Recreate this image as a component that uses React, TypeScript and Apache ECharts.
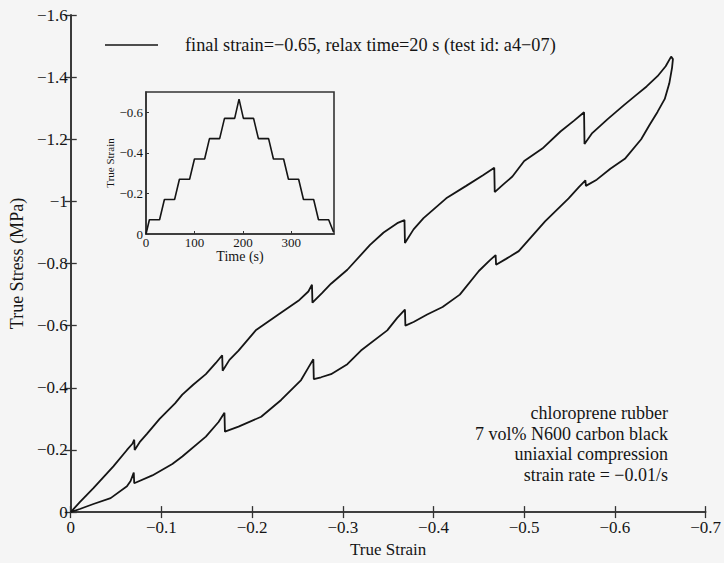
import React, { useEffect, useRef } from "react";
import * as echarts from "echarts";

// Main loop: loading path (strain, stress)
const loadStrain = [0, -0.01, -0.025, -0.047, -0.062, -0.068, -0.07, -0.0705, -0.076, -0.084, -0.098, -0.115, -0.123, -0.135, -0.149, -0.16, -0.167, -0.1675, -0.175, -0.185, -0.204, -0.229, -0.251, -0.262, -0.266, -0.2665, -0.277, -0.287, -0.305, -0.33, -0.345, -0.36, -0.368, -0.3685, -0.378, -0.389, -0.414, -0.436, -0.455, -0.467, -0.4675, -0.477, -0.487, -0.5, -0.52, -0.54, -0.555, -0.566, -0.5665, -0.575, -0.592, -0.61, -0.622, -0.635, -0.647, -0.656, -0.662];
const loadStress = [0, -0.032, -0.077, -0.147, -0.2, -0.22, -0.233, -0.2, -0.225, -0.252, -0.3, -0.35, -0.378, -0.41, -0.444, -0.48, -0.505, -0.455, -0.49, -0.52, -0.585, -0.636, -0.68, -0.71, -0.732, -0.674, -0.705, -0.735, -0.78, -0.86, -0.9, -0.93, -0.94, -0.866, -0.91, -0.946, -1.01, -1.05, -1.085, -1.108, -1.03, -1.055, -1.08, -1.13, -1.17, -1.225, -1.26, -1.287, -1.185, -1.22, -1.265, -1.31, -1.339, -1.37, -1.403, -1.435, -1.466];
// Unloading path
const unloadStrain = [-0.664, -0.663, -0.66, -0.655, -0.647, -0.638, -0.629, -0.611, -0.595, -0.58, -0.568, -0.5675, -0.56, -0.549, -0.523, -0.494, -0.48, -0.469, -0.4685, -0.462, -0.45, -0.429, -0.41, -0.393, -0.378, -0.369, -0.3685, -0.36, -0.349, -0.32, -0.305, -0.287, -0.276, -0.268, -0.2675, -0.262, -0.254, -0.232, -0.21, -0.185, -0.17, -0.1695, -0.163, -0.149, -0.123, -0.112, -0.09, -0.07, -0.0695, -0.066, -0.062, -0.044, -0.025, -0.01, 0];
const unloadStress = [-1.458, -1.43, -1.38, -1.33, -1.288, -1.245, -1.2, -1.137, -1.105, -1.07, -1.05, -1.068, -1.045, -1.01, -0.936, -0.84, -0.815, -0.796, -0.827, -0.81, -0.776, -0.7, -0.66, -0.636, -0.612, -0.6, -0.652, -0.625, -0.585, -0.52, -0.476, -0.444, -0.434, -0.428, -0.492, -0.465, -0.425, -0.361, -0.307, -0.275, -0.259, -0.32, -0.29, -0.243, -0.179, -0.155, -0.118, -0.093, -0.127, -0.1, -0.083, -0.045, -0.026, -0.01, 0];

// Inset: strain history
const insetTime = [0, 7, 28, 38, 59, 69, 90, 100, 121, 131, 152, 162, 183, 192, 201, 222, 232, 253, 263, 284, 294, 315, 325, 346, 356, 377, 387];
const insetStrain = [0, -0.07, -0.07, -0.17, -0.17, -0.27, -0.27, -0.37, -0.37, -0.47, -0.47, -0.57, -0.57, -0.665, -0.57, -0.57, -0.47, -0.47, -0.37, -0.37, -0.27, -0.27, -0.17, -0.17, -0.07, -0.07, -0.01];
const insetStrainTicks = [0, -0.2, -0.4, -0.6];

const legendName = "final strain=\u22120.65, relax time=20 s (test id: a4\u221207)";
const noteLines = ["chloroprene rubber", "7 vol% N600 carbon black", "uniaxial compression", "strain rate = \u22120.01/s"];

const FONT = "Liberation Serif";
const INK = "#151515";

const fmt = (v: number) => {
  const r = Math.round(v * 1000) / 1000;
  if (r === 0) return "0";
  return String(r).replace("-", "\u2212");
};

export default function App() {
  const ref = useRef<HTMLDivElement>(null);
  useEffect(() => {
    if (!ref.current) return;
    const chart = echarts.init(ref.current, undefined, { renderer: "svg" });
    const loop: number[][] = [];
    loadStrain.forEach((x, i) => loop.push([x, loadStress[i]]));
    unloadStrain.forEach((x, i) => loop.push([x, unloadStress[i]]));
    const hist: number[][] = insetTime.map((t, i) => [t, insetStrain[i]]);

    const tickInside = { show: true, inside: true, length: 6, lineStyle: { color: "#333", width: 1.3 } };
    const axLine = { show: true, lineStyle: { color: "#333", width: 1.6 } };

    chart.setOption({
      animation: false,
      backgroundColor: "#f5f5f5",
      textStyle: { fontFamily: FONT },
      grid: [
        { left: 70, top: 15, width: 642, height: 501, show: false },
        { left: 146, top: 92, width: 188, height: 142, show: true, backgroundColor: "#f5f5f5", borderColor: "#333", borderWidth: 1.6 },
      ],
      legend: {
        show: true,
        left: 100,
        top: 31,
        itemWidth: 53,
        itemHeight: 18,
        data: [{ name: legendName, icon: "path://M0,8 L53,8 L53,9.6 L0,9.6 Z" }],
        textStyle: { fontFamily: FONT, fontSize: 18.3, color: INK, padding: [0, 0, 0, 22] },
      },
      xAxis: [
        {
          type: "value", gridIndex: 0, min: -0.7, max: 0, interval: 0.1, inverse: true,
          name: "True Strain", nameLocation: "middle", nameGap: 24,
          nameTextStyle: { fontFamily: FONT, fontSize: 17, color: INK },
          axisLine: axLine, axisTick: tickInside, splitLine: { show: false },
          axisLabel: { formatter: fmt, fontFamily: FONT, fontSize: 17, color: INK, margin: 7 },
        },
        {
          type: "value", gridIndex: 0, position: "top", min: -0.7, max: 0, interval: 0.1, inverse: true,
          axisLine: axLine, axisTick: tickInside, splitLine: { show: false }, axisLabel: { show: false },
        },
        {
          type: "value", gridIndex: 1, min: 0, max: 388, interval: 100,
          name: "Time (s)", nameLocation: "middle", nameGap: 11,
          nameTextStyle: { fontFamily: FONT, fontSize: 14, color: INK },
          axisLine: axLine, axisTick: { show: true, inside: true, length: 3, lineStyle: { color: "#333" } },
          splitLine: { show: false },
          axisLabel: { formatter: fmt, fontFamily: FONT, fontSize: 13, color: INK, margin: 2, showMaxLabel: false },
        },
      ],
      yAxis: [
        {
          type: "value", gridIndex: 0, min: -1.6, max: 0, interval: 0.2, inverse: true,
          name: "True Stress (MPa)", nameLocation: "middle", nameGap: 37,
          nameTextStyle: { fontFamily: FONT, fontSize: 18, color: INK },
          axisLine: axLine, axisTick: tickInside, splitLine: { show: false },
          axisLabel: { formatter: fmt, fontFamily: FONT, fontSize: 17, color: INK, margin: 3 },
        },
        {
          type: "value", gridIndex: 0, position: "right", min: -1.6, max: 0, interval: 0.2, inverse: true,
          axisLine: axLine, axisTick: tickInside, splitLine: { show: false }, axisLabel: { show: false },
        },
        {
          type: "value", gridIndex: 1, min: -0.7, max: 0, inverse: true,
          name: "True Strain", nameLocation: "middle", nameGap: 27,
          nameTextStyle: { fontFamily: FONT, fontSize: 11, color: INK },
          axisLine: axLine,
          axisTick: { show: true, inside: true, length: 3, lineStyle: { color: "#333" }, customValues: insetStrainTicks },
          splitLine: { show: false },
          axisLabel: { formatter: fmt, fontFamily: FONT, fontSize: 13, color: INK, margin: 3, customValues: insetStrainTicks },
        },
      ],
      series: [
        {
          name: legendName, type: "line", xAxisIndex: 0, yAxisIndex: 0, data: loop,
          symbol: "none", smooth: false, lineStyle: { color: INK, width: 1.8 }, itemStyle: { color: INK },
        },
        {
          name: "strain history", type: "line", xAxisIndex: 2, yAxisIndex: 2, data: hist,
          symbol: "none", smooth: false, lineStyle: { color: INK, width: 1.6 }, itemStyle: { color: INK },
        },
      ],
      graphic: noteLines.map((t, i) => ({
        type: "text", x: 668, y: 413 + i * 20.7,
        style: { text: t, align: "right", verticalAlign: "middle", fontFamily: FONT, fontSize: 18, fill: INK },
      })),
    });
    return () => chart.dispose();
  }, []);
  return <div ref={ref} style={{ position: "fixed", left: 0, top: 0, width: 724, height: 563 }} />;
}
